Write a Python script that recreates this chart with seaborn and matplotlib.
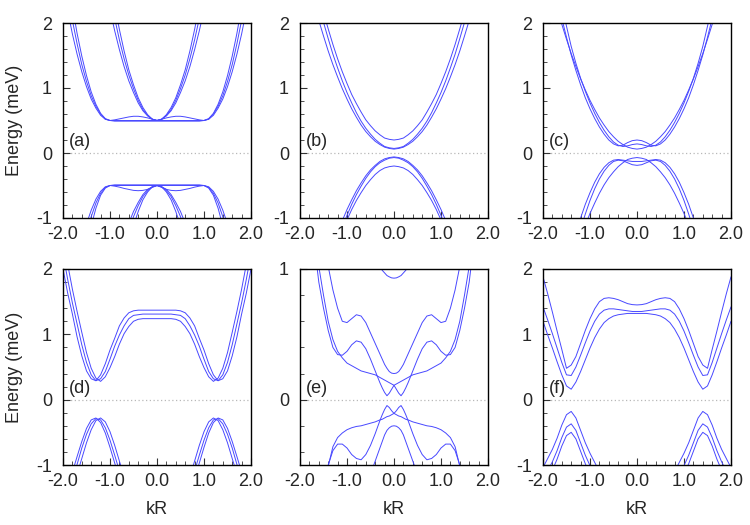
import matplotlib
matplotlib.use("Agg")
import matplotlib.pyplot as plt
from matplotlib.ticker import MultipleLocator
import seaborn as sns

# k grid (kR) shared by panels a-d, f
K = [-2.0, -1.9, -1.8, -1.7, -1.6, -1.5, -1.4, -1.3, -1.2, -1.1, -1.0,
     -0.9, -0.8, -0.7, -0.6, -0.5, -0.4, -0.3, -0.2, -0.1, 0.0,
     0.1, 0.2, 0.3, 0.4, 0.5, 0.6, 0.7, 0.8, 0.9, 1.0,
     1.1, 1.2, 1.3, 1.4, 1.5, 1.6, 1.7, 1.8, 1.9, 2.0]
# finer near kR = 0 for panel e
K_E = [-2.0, -1.9, -1.8, -1.7, -1.6, -1.5, -1.4, -1.3, -1.2, -1.1, -1.0,
       -0.9, -0.8, -0.7, -0.6, -0.5, -0.4, -0.3, -0.25, -0.2, -0.15, -0.1, -0.05, 0.0,
       0.05, 0.1, 0.15, 0.2, 0.25, 0.3, 0.4, 0.5, 0.6, 0.7, 0.8, 0.9, 1.0,
       1.1, 1.2, 1.3, 1.4, 1.5, 1.6, 1.7, 1.8, 1.9, 2.0]

# ---- panel (a)
A_UP_IN1 = [7.30,6.64,6.01,5.41,4.85,4.33,3.83,3.37,2.95,2.56,2.20,1.88,1.59,1.33,1.11,0.93,0.77,0.65,0.57,0.52,0.50,0.52,0.57,0.65,0.77,0.93,1.11,1.33,1.59,1.88,2.20,2.56,2.95,3.37,3.83,4.33,4.85,5.41,6.01,6.64,7.30]
A_UP_IN2 = [8.26,7.50,6.79,6.11,5.47,4.87,4.30,3.78,3.29,2.85,2.44,2.07,1.74,1.45,1.20,0.99,0.81,0.67,0.58,0.52,0.50,0.52,0.58,0.67,0.81,0.99,1.20,1.45,1.74,2.07,2.44,2.85,3.29,3.78,4.30,4.87,5.47,6.11,6.79,7.50,8.26]
A_UP_IN3 = [9.22,8.37,7.56,6.80,6.08,5.41,4.77,4.18,3.64,3.14,2.68,2.27,1.90,1.57,1.28,1.05,0.85,0.70,0.59,0.52,0.50,0.52,0.59,0.70,0.85,1.05,1.28,1.57,1.90,2.27,2.68,3.14,3.64,4.18,4.77,5.41,6.08,6.80,7.56,8.37,9.22]
A_UP_OUT1 = [2.58,2.19,1.83,1.52,1.25,1.02,0.83,0.69,0.58,0.52,0.50,0.51,0.525,0.54,0.555,0.565,0.565,0.555,0.54,0.52,0.50,0.52,0.54,0.555,0.565,0.565,0.555,0.54,0.525,0.51,0.50,0.52,0.58,0.69,0.83,1.02,1.25,1.52,1.83,2.19,2.58]
A_UP_OUT2 = [2.90,2.44,2.04,1.68,1.36,1.10,0.88,0.72,0.60,0.52,0.50,0.50,0.50,0.50,0.50,0.50,0.50,0.50,0.50,0.50,0.50,0.50,0.50,0.50,0.50,0.50,0.50,0.50,0.50,0.50,0.50,0.52,0.60,0.72,0.88,1.10,1.36,1.68,2.04,2.44,2.90]
A_UP_OUT3 = [3.24,2.72,2.25,1.84,1.49,1.19,0.94,0.75,0.61,0.53,0.50,0.49,0.49,0.49,0.49,0.49,0.49,0.49,0.49,0.49,0.49,0.49,0.49,0.49,0.49,0.49,0.49,0.49,0.49,0.49,0.50,0.53,0.61,0.75,0.94,1.19,1.49,1.84,2.25,2.72,3.24]
A_LO_IN1 = [-6.90,-6.28,-5.68,-5.12,-4.60,-4.10,-3.64,-3.20,-2.80,-2.44,-2.10,-1.80,-1.52,-1.28,-1.08,-0.90,-0.76,-0.64,-0.56,-0.52,-0.50,-0.52,-0.56,-0.64,-0.76,-0.90,-1.08,-1.28,-1.52,-1.80,-2.10,-2.44,-2.80,-3.20,-3.64,-4.10,-4.60,-5.12,-5.68,-6.28,-6.90]
A_LO_IN2 = [-8.18,-7.43,-6.72,-6.05,-5.42,-4.82,-4.26,-3.74,-3.26,-2.82,-2.42,-2.06,-1.73,-1.44,-1.19,-0.98,-0.81,-0.67,-0.58,-0.52,-0.50,-0.52,-0.58,-0.67,-0.81,-0.98,-1.19,-1.44,-1.73,-2.06,-2.42,-2.82,-3.26,-3.74,-4.26,-4.82,-5.42,-6.05,-6.72,-7.43,-8.18]
A_LO_IN3 = [-10.38,-9.42,-8.50,-7.64,-6.82,-6.06,-5.34,-4.67,-4.06,-3.49,-2.97,-2.50,-2.08,-1.71,-1.39,-1.12,-0.90,-0.72,-0.60,-0.52,-0.50,-0.52,-0.60,-0.72,-0.90,-1.12,-1.39,-1.71,-2.08,-2.50,-2.97,-3.49,-4.06,-4.67,-5.34,-6.06,-6.82,-7.64,-8.50,-9.42,-10.38]
A_LO_OUT1 = [-2.86,-2.41,-2.01,-1.66,-1.35,-1.09,-0.88,-0.71,-0.59,-0.52,-0.50,-0.51,-0.525,-0.545,-0.56,-0.575,-0.58,-0.575,-0.56,-0.53,-0.50,-0.53,-0.56,-0.575,-0.58,-0.575,-0.56,-0.545,-0.525,-0.51,-0.50,-0.52,-0.59,-0.71,-0.88,-1.09,-1.35,-1.66,-2.01,-2.41,-2.86]
A_LO_OUT2 = [-3.47,-2.91,-2.40,-1.96,-1.57,-1.24,-0.98,-0.77,-0.62,-0.53,-0.50,-0.50,-0.50,-0.50,-0.50,-0.50,-0.50,-0.50,-0.50,-0.50,-0.50,-0.50,-0.50,-0.50,-0.50,-0.50,-0.50,-0.50,-0.50,-0.50,-0.50,-0.53,-0.62,-0.77,-0.98,-1.24,-1.57,-1.96,-2.40,-2.91,-3.47]
A_LO_OUT3 = [-4.36,-3.63,-2.97,-2.39,-1.89,-1.47,-1.12,-0.85,-0.65,-0.54,-0.50,-0.49,-0.49,-0.49,-0.49,-0.49,-0.49,-0.49,-0.49,-0.49,-0.49,-0.49,-0.49,-0.49,-0.49,-0.49,-0.49,-0.49,-0.49,-0.49,-0.50,-0.54,-0.65,-0.85,-1.12,-1.47,-1.89,-2.39,-2.97,-3.63,-4.36]

# ---- panel (b)
B_UP1 = [3.68,3.34,3.02,2.71,2.43,2.16,1.91,1.67,1.45,1.25,1.07,0.90,0.76,0.63,0.51,0.42,0.34,0.28,0.23,0.21,0.20,0.21,0.23,0.28,0.34,0.42,0.51,0.63,0.76,0.90,1.07,1.25,1.45,1.67,1.91,2.16,2.43,2.71,3.02,3.34,3.68]
B_UP2 = [3.51,3.17,2.86,2.56,2.27,2.01,1.76,1.52,1.31,1.11,0.93,0.77,0.62,0.49,0.38,0.29,0.21,0.15,0.10,0.08,0.07,0.08,0.10,0.15,0.21,0.29,0.38,0.49,0.62,0.77,0.93,1.11,1.31,1.52,1.76,2.01,2.27,2.56,2.86,3.17,3.51]
B_UP3 = [3.18,2.87,2.58,2.30,2.04,1.80,1.57,1.36,1.17,0.99,0.83,0.68,0.55,0.43,0.33,0.25,0.18,0.13,0.09,0.07,0.06,0.07,0.09,0.13,0.18,0.25,0.33,0.43,0.55,0.68,0.83,0.99,1.17,1.36,1.57,1.80,2.04,2.30,2.58,2.87,3.18]
B_LO1 = [-3.52,-3.20,-2.89,-2.60,-2.32,-2.07,-1.83,-1.60,-1.40,-1.20,-1.03,-0.87,-0.73,-0.61,-0.50,-0.41,-0.33,-0.27,-0.23,-0.21,-0.20,-0.21,-0.23,-0.27,-0.33,-0.41,-0.50,-0.61,-0.73,-0.87,-1.03,-1.20,-1.40,-1.60,-1.83,-2.07,-2.32,-2.60,-2.89,-3.20,-3.52]
B_LO2 = [-3.63,-3.28,-2.95,-2.64,-2.35,-2.07,-1.81,-1.57,-1.35,-1.15,-0.96,-0.79,-0.64,-0.51,-0.39,-0.29,-0.21,-0.15,-0.11,-0.08,-0.07,-0.08,-0.11,-0.15,-0.21,-0.29,-0.39,-0.51,-0.64,-0.79,-0.96,-1.15,-1.35,-1.57,-1.81,-2.07,-2.35,-2.64,-2.95,-3.28,-3.63]
B_LO3 = [-3.30,-2.98,-2.68,-2.40,-2.13,-1.88,-1.65,-1.43,-1.23,-1.04,-0.87,-0.72,-0.58,-0.46,-0.35,-0.26,-0.19,-0.13,-0.09,-0.07,-0.06,-0.07,-0.09,-0.13,-0.19,-0.26,-0.35,-0.46,-0.58,-0.72,-0.87,-1.04,-1.23,-1.43,-1.65,-1.88,-2.13,-2.40,-2.68,-2.98,-3.30]

# ---- panel (c)
C_UP1 = [3.06,2.77,2.49,2.23,1.98,1.75,1.53,1.33,1.14,0.97,0.81,0.67,0.54,0.43,0.33,0.25,0.18,0.13,0.09,0.07,0.06,0.07,0.09,0.13,0.18,0.25,0.33,0.43,0.54,0.67,0.81,0.97,1.14,1.33,1.53,1.75,1.98,2.23,2.49,2.77,3.06]
C_UP2 = [3.40,3.05,2.70,2.38,2.07,1.78,1.51,1.27,1.05,0.85,0.68,0.53,0.40,0.29,0.20,0.14,0.11,0.12,0.16,0.19,0.20,0.19,0.16,0.12,0.11,0.14,0.20,0.29,0.40,0.53,0.68,0.85,1.05,1.27,1.51,1.78,2.07,2.38,2.70,3.05,3.40]
C_UP3 = [3.70,3.30,2.95,2.60,2.27,1.95,1.64,1.38,1.15,0.95,0.77,0.61,0.47,0.35,0.25,0.17,0.12,0.10,0.11,0.13,0.14,0.13,0.11,0.10,0.12,0.17,0.25,0.35,0.47,0.61,0.77,0.95,1.15,1.38,1.64,1.95,2.27,2.60,2.95,3.30,3.70]
C_LO1 = [-3.50,-3.20,-2.90,-2.60,-2.30,-2.00,-1.76,-1.52,-1.31,-1.11,-0.93,-0.77,-0.62,-0.49,-0.38,-0.29,-0.21,-0.15,-0.10,-0.08,-0.07,-0.08,-0.10,-0.15,-0.21,-0.29,-0.38,-0.49,-0.62,-0.77,-0.93,-1.11,-1.31,-1.52,-1.76,-2.00,-2.30,-2.60,-2.90,-3.20,-3.50]
C_LO2 = [-3.50,-3.20,-2.90,-2.60,-2.30,-2.00,-1.70,-1.42,-1.17,-0.94,-0.73,-0.55,-0.40,-0.28,-0.19,-0.13,-0.11,-0.12,-0.15,-0.18,-0.19,-0.18,-0.15,-0.12,-0.11,-0.13,-0.19,-0.28,-0.40,-0.55,-0.73,-0.94,-1.17,-1.42,-1.70,-2.00,-2.30,-2.60,-2.90,-3.20,-3.50]
C_LO3 = [-3.30,-3.00,-2.70,-2.40,-2.10,-1.80,-1.50,-1.24,-1.00,-0.79,-0.61,-0.45,-0.32,-0.22,-0.15,-0.11,-0.10,-0.11,-0.12,-0.13,-0.13,-0.13,-0.12,-0.11,-0.10,-0.11,-0.15,-0.22,-0.32,-0.45,-0.61,-0.79,-1.00,-1.24,-1.50,-1.80,-2.10,-2.40,-2.70,-3.00,-3.30]

# ---- panel (d)
D_UP1 = [2.50,2.07,1.69,1.35,1.03,0.72,0.48,0.33,0.28,0.35,0.49,0.66,0.85,1.01,1.12,1.20,1.23,1.24,1.24,1.24,1.24,1.24,1.24,1.24,1.23,1.20,1.12,1.01,0.85,0.66,0.49,0.35,0.28,0.33,0.48,0.72,1.03,1.35,1.69,2.07,2.50]
D_UP2 = [2.23,1.84,1.48,1.16,0.84,0.57,0.38,0.29,0.32,0.43,0.62,0.82,0.99,1.13,1.24,1.29,1.30,1.31,1.31,1.31,1.31,1.31,1.31,1.31,1.30,1.29,1.24,1.13,0.99,0.82,0.62,0.43,0.32,0.29,0.38,0.57,0.84,1.16,1.48,1.84,2.23]
D_UP3 = [2.00,1.63,1.31,0.96,0.67,0.44,0.32,0.29,0.38,0.55,0.76,0.94,1.13,1.25,1.33,1.36,1.37,1.37,1.37,1.37,1.37,1.37,1.37,1.37,1.37,1.36,1.33,1.25,1.13,0.94,0.76,0.55,0.38,0.29,0.32,0.44,0.67,0.96,1.31,1.63,2.00]
D_LO1 = [-1.86,-1.62,-1.38,-1.14,-0.90,-0.66,-0.46,-0.32,-0.28,-0.34,-0.49,-0.70,-0.94,-1.18,-1.42,-1.66,-1.90,-2.10,-2.30,-2.40,-2.45,-2.40,-2.30,-2.10,-1.90,-1.66,-1.42,-1.18,-0.94,-0.70,-0.49,-0.34,-0.28,-0.32,-0.46,-0.66,-0.90,-1.14,-1.38,-1.62,-1.86]
D_LO2 = [-1.71,-1.47,-1.23,-0.99,-0.74,-0.53,-0.37,-0.29,-0.31,-0.43,-0.62,-0.85,-1.09,-1.33,-1.57,-1.81,-2.05,-2.25,-2.40,-2.50,-2.55,-2.50,-2.40,-2.25,-2.05,-1.81,-1.57,-1.33,-1.09,-0.85,-0.62,-0.43,-0.31,-0.29,-0.37,-0.53,-0.74,-0.99,-1.23,-1.47,-1.71]
D_LO3 = [-1.59,-1.35,-1.11,-0.87,-0.64,-0.44,-0.31,-0.28,-0.35,-0.51,-0.73,-0.97,-1.21,-1.45,-1.69,-1.93,-2.15,-2.35,-2.50,-2.60,-2.65,-2.60,-2.50,-2.35,-2.15,-1.93,-1.69,-1.45,-1.21,-0.97,-0.73,-0.51,-0.35,-0.28,-0.31,-0.44,-0.64,-0.87,-1.11,-1.35,-1.59]

# ---- panel (e), on K_E
E_ARC = [4.77,4.40,4.04,3.70,3.39,3.09,2.81,2.55,2.31,2.09,1.89,1.71,1.54,1.40,1.28,1.17,1.08,1.02,0.99,0.97,0.95,0.94,0.932,0.93,0.932,0.94,0.95,0.97,0.99,1.02,1.08,1.17,1.28,1.40,1.54,1.71,1.89,2.09,2.31,2.55,2.81,3.09,3.39,3.70,4.04,4.40,4.77]
E_W1 = [2.7,2.4,2.1,1.8,1.5,1.25,1.02,0.84,0.70,0.60,0.59,0.62,0.65,0.64,0.59,0.51,0.43,0.35,0.31,0.27,0.24,0.215,0.203,0.20,0.203,0.215,0.24,0.27,0.31,0.35,0.43,0.51,0.59,0.64,0.65,0.62,0.59,0.60,0.70,0.84,1.02,1.25,1.5,1.8,2.1,2.4,2.7]
E_P = [2.6,2.1,1.65,1.20,0.90,0.70,0.53,0.40,0.345,0.34,0.37,0.42,0.45,0.44,0.39,0.31,0.22,0.13,0.09,0.055,0.03,0.05,0.08,0.11,0.12,0.13,0.14,0.15,0.16,0.17,0.19,0.20,0.21,0.22,0.24,0.26,0.28,0.32,0.37,0.46,0.60,0.80,1.02,1.30,1.65,2.05,2.5]
E_Q = [2.5,2.05,1.65,1.30,1.02,0.80,0.60,0.46,0.37,0.32,0.28,0.26,0.24,0.22,0.21,0.20,0.19,0.17,0.16,0.15,0.14,0.13,0.12,0.11,0.08,0.05,0.03,0.055,0.09,0.13,0.22,0.31,0.39,0.44,0.45,0.42,0.37,0.34,0.345,0.40,0.53,0.70,0.90,1.20,1.65,2.1,2.6]
E_DOME = [-2.0,-1.9,-1.8,-1.7,-1.6,-1.5,-1.4,-1.3,-1.2,-1.1,-1.0,-0.95,-0.88,-0.80,-0.70,-0.57,-0.47,-0.37,-0.32,-0.27,-0.235,-0.215,-0.203,-0.20,-0.203,-0.215,-0.235,-0.27,-0.32,-0.37,-0.47,-0.57,-0.70,-0.80,-0.88,-0.95,-1.0,-1.1,-1.2,-1.3,-1.4,-1.5,-1.6,-1.7,-1.8,-1.9,-2.0]
E_PL = [-2.0,-1.7,-1.4,-1.1,-0.85,-0.66,-0.50,-0.39,-0.34,-0.34,-0.37,-0.42,-0.45,-0.46,-0.42,-0.35,-0.26,-0.16,-0.115,-0.075,-0.045,-0.06,-0.085,-0.105,-0.115,-0.125,-0.13,-0.14,-0.15,-0.155,-0.17,-0.18,-0.19,-0.20,-0.205,-0.215,-0.23,-0.255,-0.29,-0.36,-0.51,-0.68,-0.88,-1.1,-1.4,-1.7,-2.0]
E_QL = [-2.0,-1.7,-1.4,-1.1,-0.88,-0.68,-0.51,-0.36,-0.29,-0.255,-0.23,-0.215,-0.205,-0.20,-0.19,-0.18,-0.17,-0.155,-0.15,-0.14,-0.13,-0.125,-0.115,-0.105,-0.085,-0.06,-0.045,-0.075,-0.115,-0.16,-0.26,-0.35,-0.42,-0.46,-0.45,-0.42,-0.37,-0.34,-0.34,-0.39,-0.50,-0.66,-0.85,-1.1,-1.4,-1.7,-2.0]

# ---- panel (f)
F_UP1 = [1.88,1.62,1.34,1.05,0.77,0.48,0.53,0.66,0.86,1.06,1.24,1.39,1.50,1.55,1.56,1.55,1.53,1.50,1.47,1.455,1.45,1.455,1.47,1.50,1.53,1.55,1.56,1.55,1.50,1.39,1.24,1.06,0.86,0.66,0.53,0.48,0.77,1.05,1.34,1.62,1.88]
F_UP2 = [1.42,1.22,1.01,0.79,0.57,0.38,0.37,0.50,0.68,0.87,1.05,1.20,1.31,1.37,1.39,1.39,1.38,1.37,1.36,1.35,1.35,1.35,1.36,1.37,1.38,1.39,1.39,1.37,1.31,1.20,1.05,0.87,0.68,0.50,0.37,0.38,0.57,0.79,1.01,1.22,1.42]
F_UP3 = [1.20,0.99,0.79,0.58,0.38,0.21,0.16,0.27,0.43,0.61,0.79,0.95,1.08,1.18,1.24,1.28,1.30,1.31,1.32,1.32,1.32,1.32,1.32,1.31,1.30,1.28,1.24,1.18,1.08,0.95,0.79,0.61,0.43,0.27,0.16,0.21,0.38,0.58,0.79,0.99,1.20]
F_LO1 = [-1.04,-0.90,-0.76,-0.59,-0.39,-0.23,-0.18,-0.28,-0.47,-0.66,-0.82,-0.96,-1.10,-1.25,-1.41,-1.57,-1.71,-1.83,-1.93,-2.00,-2.03,-2.00,-1.93,-1.83,-1.71,-1.57,-1.41,-1.25,-1.10,-0.96,-0.82,-0.66,-0.47,-0.28,-0.18,-0.23,-0.39,-0.59,-0.76,-0.90,-1.04]
F_LO2 = [-1.23,-1.09,-0.95,-0.78,-0.58,-0.42,-0.37,-0.47,-0.66,-0.85,-1.01,-1.15,-1.29,-1.44,-1.60,-1.76,-1.90,-2.02,-2.12,-2.19,-2.22,-2.19,-2.12,-2.02,-1.90,-1.76,-1.60,-1.44,-1.29,-1.15,-1.01,-0.85,-0.66,-0.47,-0.37,-0.42,-0.58,-0.78,-0.95,-1.09,-1.23]
F_LO3 = [-1.36,-1.22,-1.08,-0.91,-0.71,-0.55,-0.50,-0.60,-0.79,-0.98,-1.14,-1.28,-1.42,-1.57,-1.73,-1.89,-2.03,-2.15,-2.25,-2.32,-2.35,-2.32,-2.25,-2.15,-2.03,-1.89,-1.73,-1.57,-1.42,-1.28,-1.14,-0.98,-0.79,-0.60,-0.50,-0.55,-0.71,-0.91,-1.08,-1.22,-1.36]

X_TICKS = [-2, -1, 0, 1, 2]
X_LABELS = ["-2.0", "-1.0", "0.0", "1.0", "2.0"]
BLUE = "#4848ff"


def draw_panel(ax, k, curves, tag, ylim=(-1, 2), yticks=(-1, 0, 1, 2)):
    for e in curves:
        sns.lineplot(x=k, y=e, ax=ax, color=BLUE, linewidth=0.7,
                     estimator=None, sort=False, legend=False)
    ax.axhline(0, color="#b8b8b8", linestyle=(0, (1, 2)), linewidth=0.9, zorder=0)
    ax.set_xlim(-2, 2)
    ax.set_ylim(*ylim)
    ax.set_xticks(X_TICKS)
    ax.set_xticklabels(X_LABELS)
    ax.set_yticks(list(yticks))
    ax.set_yticklabels([str(t) for t in yticks])
    ax.xaxis.set_minor_locator(MultipleLocator(0.2))
    ax.yaxis.set_minor_locator(MultipleLocator(0.2))
    ax.tick_params(which="both", direction="in", top=False, right=False,
                   labelsize=13, color="#333333")
    ax.tick_params(which="major", length=5, width=0.8)
    ax.tick_params(which="minor", length=3, width=0.6)
    ax.tick_params(axis="y", pad=8)
    ax.tick_params(axis="x", pad=6)
    for s in ax.spines.values():
        s.set_linewidth(1.0)
        s.set_color("black")
        s.set_visible(True)
    ax.set_xlabel("")
    ax.set_ylabel("")
    ax.text(0.03, 0.39, tag, transform=ax.transAxes, fontsize=13,
            ha="left", va="center")


sns.set_theme(style="ticks")
plt.rcParams["font.family"] = ["Liberation Sans", "DejaVu Sans"]

fig = plt.figure(figsize=(7.5, 5.25), dpi=100)
lefts = [63 / 750, 300 / 750, 543 / 750]
w = 188 / 750
top_b, top_h = 1 - 218 / 525, 195 / 525
bot_b, bot_h = 1 - 465 / 525, 196 / 525

ax_a = fig.add_axes([lefts[0], top_b, w, top_h])
ax_b = fig.add_axes([lefts[1], top_b, w, top_h])
ax_c = fig.add_axes([lefts[2], top_b, w, top_h])
ax_d = fig.add_axes([lefts[0], bot_b, w, bot_h])
ax_e = fig.add_axes([lefts[1], bot_b, w, bot_h])
ax_f = fig.add_axes([lefts[2], bot_b, w, bot_h])

draw_panel(ax_a, K, [A_UP_IN1, A_UP_IN2, A_UP_IN3, A_UP_OUT1, A_UP_OUT2, A_UP_OUT3,
                     A_LO_IN1, A_LO_IN2, A_LO_IN3, A_LO_OUT1, A_LO_OUT2, A_LO_OUT3], "(a)")
draw_panel(ax_b, K, [B_UP1, B_UP2, B_UP3, B_LO1, B_LO2, B_LO3], "(b)")
draw_panel(ax_c, K, [C_UP1, C_UP2, C_UP3, C_LO1, C_LO2, C_LO3], "(c)")
draw_panel(ax_d, K, [D_UP1, D_UP2, D_UP3, D_LO1, D_LO2, D_LO3], "(d)")
draw_panel(ax_e, K_E, [E_ARC, E_W1, E_P, E_Q, E_DOME, E_PL, E_QL], "(e)",
           ylim=(-0.5, 1), yticks=(0, 1))
draw_panel(ax_f, K, [F_UP1, F_UP2, F_UP3, F_LO1, F_LO2, F_LO3], "(f)")

fig.text(15 / 750, 1 - 120.5 / 525, "Energy (meV)", rotation=90, fontsize=13,
         ha="center", va="center")
fig.text(15 / 750, 1 - 367 / 525, "Energy (meV)", rotation=90, fontsize=13,
         ha="center", va="center")
for x0 in lefts:
    fig.text(x0 + w / 2, 1 - 510 / 525, "kR", fontsize=13, ha="center", va="center")

fig.savefig("out.png", dpi=100)
